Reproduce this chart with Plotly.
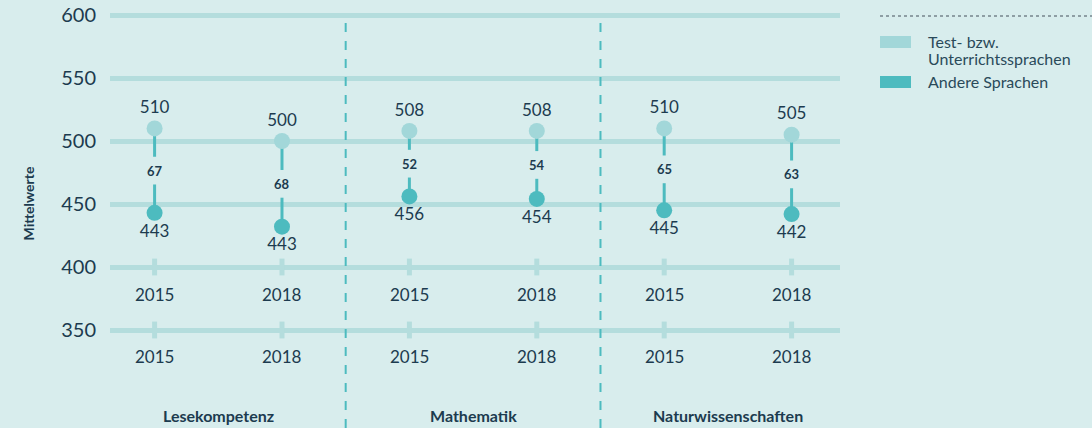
import plotly.graph_objects as go

# ---- data ----
categories = ["Lese 2015", "Lese 2018", "Math 2015", "Math 2018", "Nat 2015", "Nat 2018"]
years = ["2015", "2018", "2015", "2018", "2015", "2018"]
domains = ["Lesekompetenz", "Mathematik", "Naturwissenschaften"]
test_lang = [510, 500, 508, 508, 510, 505]
other_lang = [443, 432, 456, 454, 445, 442]
other_labels = ["443", "443", "456", "454", "445", "442"]
y_ticks = [350, 400, 450, 500, 550, 600]
legend_lines = [["Test- bzw.", "Unterrichtssprachen"], ["Andere Sprachen"]]

# ---- styles ----
BG = "#d8eded"
GRID = "#b4dddd"
LIGHT = "#a2d7d9"
DARK = "#4dbbbf"
NAVY = "#1c3b4f"
FONT = "Lato"
GAP = 11

xs = list(range(len(categories)))
diffs = [t - o for t, o in zip(test_lang, other_lang)]

fig = go.Figure()

# connector segments with gap for the difference label
lx, ly = [], []
for i, (t, o) in enumerate(zip(test_lang, other_lang)):
    mid = (t + o) / 2
    lx += [i, i, None, i, i, None]
    ly += [t, mid + GAP, None, mid - GAP, o, None]
fig.add_trace(go.Scatter(x=lx, y=ly, mode="lines", line=dict(color=DARK, width=3),
                         hoverinfo="skip", showlegend=False))

# tick marks on the 400 and 350 lines
for yv in [400, 350]:
    fig.add_trace(go.Scatter(x=xs, y=[yv] * len(xs), mode="markers",
                             marker=dict(symbol="line-ns", size=12,
                                         line=dict(width=5, color=GRID)),
                             hoverinfo="skip", showlegend=False))

fig.add_trace(go.Scatter(x=xs, y=test_lang, mode="markers+text",
                         marker=dict(size=16, color=LIGHT),
                         text=[str(v) for v in test_lang], textposition="top center",
                         textfont=dict(size=17, color=NAVY, family=FONT),
                         name="Test- bzw. Unterrichtssprachen", showlegend=False))
fig.add_trace(go.Scatter(x=xs, y=other_lang, mode="markers+text",
                         marker=dict(size=16, color=DARK),
                         text=other_labels, textposition="bottom center",
                         textfont=dict(size=17, color=NAVY, family=FONT),
                         name="Andere Sprachen", showlegend=False))

annotations = []
for i, (t, o, d) in enumerate(zip(test_lang, other_lang, diffs)):
    annotations.append(dict(x=i, y=(t + o) / 2, text=f"<b>{d}</b>", showarrow=False,
                            font=dict(size=13, color=NAVY, family=FONT)))
for yv, shift in [(400, -27), (350, -26)]:
    for i, yr in enumerate(years):
        annotations.append(dict(x=i, y=yv, text=yr, showarrow=False, yshift=shift,
                                font=dict(size=17, color=NAVY, family=FONT)))

PW = 730
def px(xp):
    return (xp - 110) / PW
def py(yp):
    return 1 - yp / 428

for k, dname in enumerate(domains):
    annotations.append(dict(x=2 * k + 0.5, y=py(415), yref="paper", text=f"<b>{dname}</b>",
                            showarrow=False, yanchor="middle",
                            font=dict(size=16, color=NAVY, family=FONT)))
annotations.append(dict(x=px(18), y=py(204), xref="paper", yref="paper",
                        text="<b>Mittelwerte</b>", textangle=-90, showarrow=False,
                        font=dict(size=14, color=NAVY, family=FONT)))

shapes = []
for xd in [1.5, 3.5]:
    shapes.append(dict(type="line", x0=xd, x1=xd, y0=0, y1=py(15), xref="x", yref="paper",
                       line=dict(color=DARK, width=2, dash="dash")))
shapes.append(dict(type="line", x0=px(880), x1=px(1092), y0=py(16), y1=py(16),
                   xref="paper", yref="paper", line=dict(color="#8e9ea4", width=2, dash="dot")))
legend_cols = [LIGHT, DARK]
legend_rows = [[42, 59], [82]]
for col, lines, rows in zip(legend_cols, legend_lines, legend_rows):
    shapes.append(dict(type="rect", x0=px(880), x1=px(911), y0=py(rows[0] + 6), y1=py(rows[0] - 6),
                       xref="paper", yref="paper", fillcolor=col, line=dict(width=0)))
    for txt, ty in zip(lines, rows):
        annotations.append(dict(x=px(926), y=py(ty), xref="paper", yref="paper", text=txt,
                                xanchor="left", yanchor="middle", align="left", showarrow=False,
                                font=dict(size=16, color="#2a4a5a", family=FONT)))

ymax = 600 + 15 / 1.26
ymin = 600 - 413 / 1.26

fig.update_layout(
    width=1092, height=428,
    margin=dict(l=110, r=252, t=0, b=0),
    paper_bgcolor=BG, plot_bgcolor=BG,
    xaxis=dict(range=[-0.35, 5.38], showgrid=False, zeroline=False, showticklabels=False,
               fixedrange=True),
    yaxis=dict(range=[ymin, ymax], tickvals=y_ticks, ticktext=[str(v) for v in y_ticks],
               showgrid=True, gridcolor=GRID, gridwidth=5, zeroline=False,
               tickfont=dict(size=20, color=NAVY, family=FONT), ticklabelstandoff=13,
               fixedrange=True),
    annotations=annotations, shapes=shapes,
)

fig.write_html("out.html", config={"displayModeBar": False},
               post_script="document.body.style.margin='0';document.body.style.overflow='hidden';")
